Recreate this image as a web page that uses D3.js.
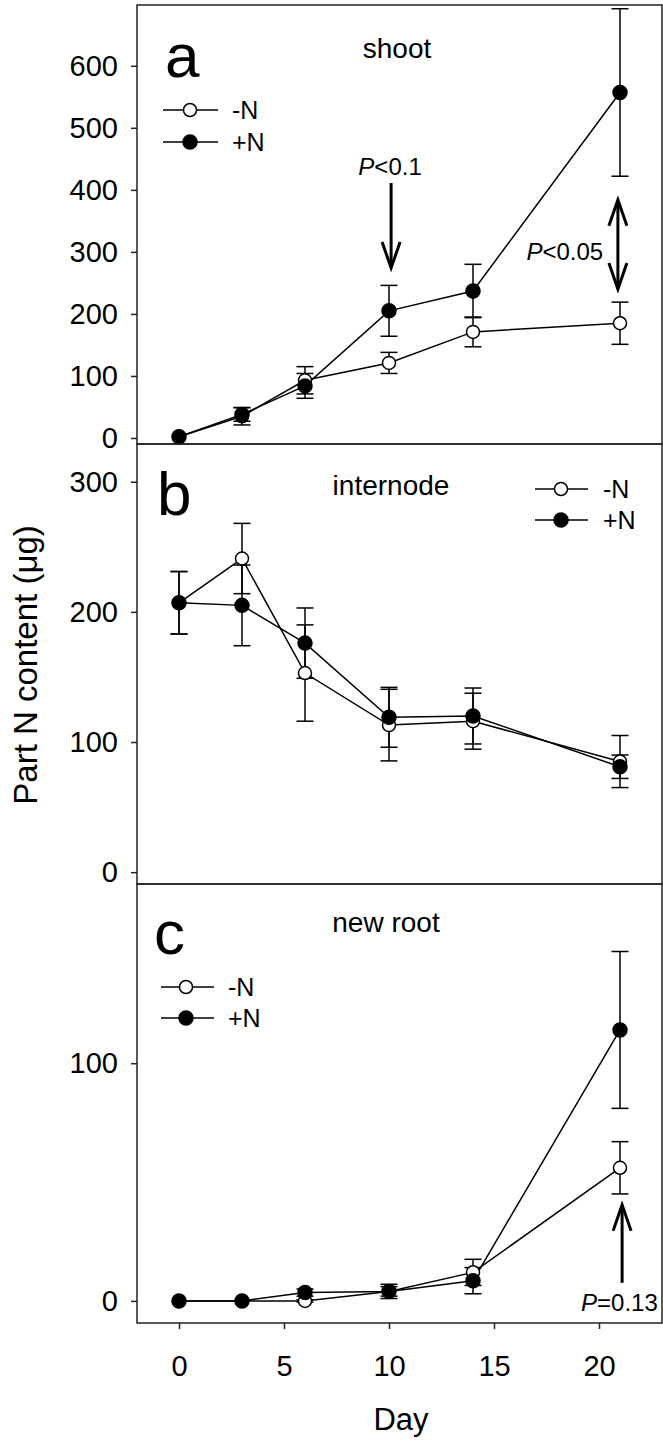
<!DOCTYPE html>
<html>
<head>
<meta charset="utf-8">
<script src="https://cdn.jsdelivr.net/npm/d3@7"></script>
<style>
  body { margin: 0; background: #fff; }
  svg text { font-family: "Liberation Sans", Arial, sans-serif; fill: #000; }
</style>
</head>
<body>
<div id="chart"></div>
<script>
const days = [0, 3, 6, 10, 14, 21];
const seriesNames = ["-N", "+N"];
const xTicks = [0, 5, 10, 15, 20];

// shoot
const shootMinusN = [2, 35, 93, 121, 171, 185];
const shootMinusNSe = [0, 14, 22, 17, 24, 34];
const shootPlusN = [2, 38, 84, 205, 237, 557];
const shootPlusNSe = [0, 11, 20, 41, 43, 135];
const shootTicks = [0, 100, 200, 300, 400, 500, 600];

// internode
const internodeMinusN = [207, 241, 153, 113, 116, 85];
const internodeMinusNSe = [24, 27, 37, 27.5, 21.5, 20];
const internodePlusN = [207, 205, 176, 119, 120, 81];
const internodePlusNSe = [24, 31, 27, 23, 21.5, 9];
const internodeTicks = [0, 100, 200, 300];

// new root
const rootMinusN = [0, 0, 0, 4, 12, 56];
const rootMinusNSe = [0, 0, 0.5, 2, 5.5, 11];
const rootPlusN = [0, 0, 3.5, 4, 8.5, 114];
const rootPlusNSe = [0, 0, 1.5, 3, 5.5, 33];
const rootTicks = [0, 100];

const W = 663, H = 1443;
const left = 137, right = 662;

const svg = d3.select("#chart").append("svg")
    .attr("width", W).attr("height", H);

const x = d3.scaleLinear().domain([-2, 23]).range([left, right]);

const panels = [
  { letter: "a", title: "shoot", top: 5, bottom: 444, domain: [-9.7, 698], ticks: shootTicks,
    minus: shootMinusN, minusSe: shootMinusNSe, plus: shootPlusN, plusSe: shootPlusNSe,
    letterPos: [165, 77], titlePos: [397, 58],
    legend: { x1: 163, x2: 218, cx: 190, tx: 232, y: [110, 142] } },
  { letter: "b", title: "internode", top: 444, bottom: 884, domain: [-9.1, 329], ticks: internodeTicks,
    minus: internodeMinusN, minusSe: internodeMinusNSe, plus: internodePlusN, plusSe: internodePlusNSe,
    letterPos: [157, 515], titlePos: [391, 495],
    legend: { x1: 535, x2: 588, cx: 561, tx: 603, y: [489, 520] } },
  { letter: "c", title: "new root", top: 884, bottom: 1323, domain: [-9.3, 175.4], ticks: rootTicks,
    minus: rootMinusN, minusSe: rootMinusNSe, plus: rootPlusN, plusSe: rootPlusNSe,
    letterPos: [154, 954], titlePos: [386, 932],
    legend: { x1: 161, x2: 214, cx: 186, tx: 228, y: [987, 1018] } }
];

function arrowHead(g, px, tipY, dir) {
  // open chevron head; dir = 1 pointing down, -1 pointing up
  g.append("path")
    .attr("d", `M${px - 9},${tipY - dir * 26}L${px},${tipY}L${px + 9},${tipY - dir * 26}`)
    .attr("fill", "none").attr("stroke", "#000").attr("stroke-width", 3);
}

panels.forEach(p => {
  p.y = d3.scaleLinear().domain(p.domain).range([p.bottom, p.top]);
  const g = svg.append("g");

  // frame
  g.append("rect")
    .attr("x", left).attr("y", p.top)
    .attr("width", right - left).attr("height", p.bottom - p.top)
    .attr("fill", "none").attr("stroke", "#222").attr("stroke-width", 1.5);

  // y axis
  const ya = g.append("g")
    .attr("transform", `translate(${left},0)`)
    .call(d3.axisLeft(p.y).tickValues(p.ticks).tickSize(6).tickPadding(13));
  ya.select(".domain").remove();
  ya.selectAll("line").attr("stroke", "#222").attr("stroke-width", 1.5);
  ya.selectAll("text").style("font-size", "29px")
    .style("font-family", '"Liberation Sans", Arial, sans-serif');

  const line = d3.line().x((d, i) => x(days[i])).y(d => p.y(d));
  const series = [
    { vals: p.minus, se: p.minusSe, fill: "#fff", r: 6.5 },
    { vals: p.plus, se: p.plusSe, fill: "#000", r: 7 }
  ];

  series.forEach(s => {
    g.append("path").datum(s.vals)
      .attr("d", line).attr("fill", "none")
      .attr("stroke", "#000").attr("stroke-width", 1.5);
  });

  series.forEach(s => {
    const eb = g.append("g");
    s.vals.forEach((v, i) => {
      if (!s.se[i]) return;
      const cx = x(days[i]), y1 = p.y(v + s.se[i]), y2 = p.y(v - s.se[i]);
      eb.append("line").attr("x1", cx).attr("x2", cx).attr("y1", y1).attr("y2", y2);
      eb.append("line").attr("x1", cx - 8.5).attr("x2", cx + 8.5).attr("y1", y1).attr("y2", y1);
      eb.append("line").attr("x1", cx - 8.5).attr("x2", cx + 8.5).attr("y1", y2).attr("y2", y2);
    });
    eb.selectAll("line").attr("stroke", "#000").attr("stroke-width", 1.5);
  });

  series.forEach(s => {
    g.selectAll(null).data(s.vals).join("circle")
      .attr("cx", (d, i) => x(days[i])).attr("cy", d => p.y(d))
      .attr("r", s.r).attr("fill", s.fill)
      .attr("stroke", "#000").attr("stroke-width", 1.5);
  });

  // letter and title
  g.append("text").attr("x", p.letterPos[0]).attr("y", p.letterPos[1])
    .style("font-size", "62px").text(p.letter);
  g.append("text").attr("x", p.titlePos[0]).attr("y", p.titlePos[1])
    .attr("text-anchor", "middle").style("font-size", "28px").text(p.title);

  // legend
  const L = p.legend;
  seriesNames.forEach((name, i) => {
    const ly = L.y[i];
    g.append("line").attr("x1", L.x1).attr("x2", L.x2).attr("y1", ly).attr("y2", ly)
      .attr("stroke", "#000").attr("stroke-width", 1.5);
    g.append("circle").attr("cx", L.cx).attr("cy", ly).attr("r", series[i].r)
      .attr("fill", series[i].fill).attr("stroke", "#000").attr("stroke-width", 1.5);
    g.append("text").attr("x", L.tx).attr("y", ly + 9)
      .style("font-size", "25px").text(name);
  });
});

// x axis on bottom panel
const pc = panels[2];
const xa = svg.append("g")
  .attr("transform", `translate(0,${pc.bottom})`)
  .call(d3.axisBottom(x).tickValues(xTicks).tickSize(6).tickPadding(26));
xa.select(".domain").remove();
xa.selectAll("line").attr("stroke", "#222").attr("stroke-width", 1.5);
xa.selectAll("text").style("font-size", "29px")
  .style("font-family", '"Liberation Sans", Arial, sans-serif');

svg.append("text").attr("x", 401).attr("y", 1430)
  .attr("text-anchor", "middle").style("font-size", "31px").text("Day");

svg.append("text")
  .attr("transform", "translate(37,665) rotate(-90)")
  .attr("text-anchor", "middle").style("font-size", "33px")
  .text("Part N content (\u03bcg)");

// significance annotations
function pLabel(sel, rest) {
  sel.append("tspan").style("font-style", "italic").text("P");
  sel.append("tspan").text(rest);
}

const pa = panels[0], ann = svg.append("g");
const ax1 = x(10.1);
ann.append("line").attr("x1", ax1).attr("x2", ax1)
  .attr("y1", pa.y(411)).attr("y2", pa.y(274) - 2)
  .attr("stroke", "#000").attr("stroke-width", 3);
arrowHead(ann, ax1, pa.y(274), 1);
ann.append("text").attr("x", x(10.05)).attr("y", pa.y(424))
  .attr("text-anchor", "middle").style("font-size", "24px")
  .call(pLabel, "<0.1");

const ax2 = x(20.9);
ann.append("line").attr("x1", ax2).attr("x2", ax2)
  .attr("y1", pa.y(384) + 2).attr("y2", pa.y(240) - 2)
  .attr("stroke", "#000").attr("stroke-width", 3);
arrowHead(ann, ax2, pa.y(384), -1);
arrowHead(ann, ax2, pa.y(240), 1);
ann.append("text").attr("x", x(20.2)).attr("y", pa.y(287))
  .attr("text-anchor", "end").style("font-size", "24px")
  .call(pLabel, "<0.05");

const ax3 = x(21.1);
ann.append("line").attr("x1", ax3).attr("x2", ax3)
  .attr("y1", pc.y(40.4) + 2).attr("y2", pc.y(7.6))
  .attr("stroke", "#000").attr("stroke-width", 3);
arrowHead(ann, ax3, pc.y(40.4), -1);
ann.append("text").attr("x", x(22.8)).attr("y", pc.y(-4.2))
  .attr("text-anchor", "end").style("font-size", "24px")
  .call(pLabel, "=0.13");
</script>
</body>
</html>
